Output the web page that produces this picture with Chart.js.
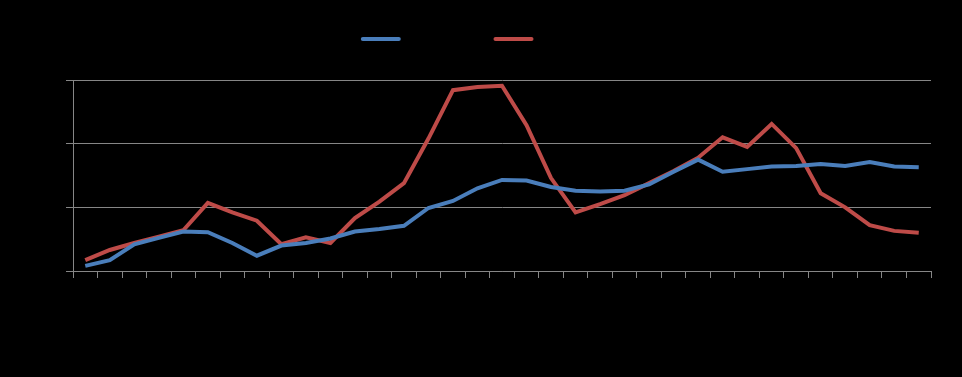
<!DOCTYPE html>
<html>
<head>
<meta charset="utf-8">
<script src="https://cdn.jsdelivr.net/npm/chart.js@4"></script>
<style>
  html, body { margin: 0; padding: 0; background: #000; }
  #wrap { width: 962px; height: 377px; }
</style>
</head>
<body>
<div id="wrap"><canvas id="chart" width="962" height="377"></canvas></div>
<script>
// categories (labels are drawn black on black in the original)
const categories = ["1", "2", "3", "4", "5", "6", "7", "8", "9", "10",
  "11", "12", "13", "14", "15", "16", "17", "18", "19", "20",
  "21", "22", "23", "24", "25", "26", "27", "28", "29", "30",
  "31", "32", "33", "34", "35"];

const seriesNames = ["Export volume", "Domestic demand"];

const blueValues = [0.8, 1.7, 4.2, 5.2, 6.2, 6.1, 4.4, 2.4, 4.0, 4.4,
  5.1, 6.2, 6.6, 7.1, 9.9, 11.0, 13.0, 14.3, 14.2, 13.2,
  12.6, 12.5, 12.6, 13.6, 15.6, 17.5, 15.6, 16.0, 16.4, 16.5,
  16.8, 16.5, 17.1, 16.4, 16.3];

const redValues = [1.7, 3.3, 4.4, 5.4, 6.4, 10.7, 9.2, 7.9, 4.2, 5.3,
  4.4, 8.3, 10.9, 13.8, 20.8, 28.4, 28.9, 29.1, 22.9, 14.6,
  9.2, 10.5, 11.9, 13.8, 15.7, 17.8, 21.0, 19.5, 23.1, 19.3,
  12.2, 10.0, 7.2, 6.3, 6.0];

const yTicks = [0, 10, 20, 30];

const axisGray = "#868686";

/* push the plot area down below the legend */
const legendGap = {
  id: "legendGap",
  beforeInit(chart) {
    const fit = chart.legend.fit;
    chart.legend.fit = function () {
      fit.bind(chart.legend)();
      this.height += 25;
    };
  },
};

let ctx = document.querySelector("#chart").getContext("2d");
new Chart(ctx, {
  type: "line",
  data: {
    labels: categories,
    datasets: [
      {
        label: seriesNames[0],
        data: blueValues,
        borderColor: "#4a7ebb",
        backgroundColor: "#4a7ebb",
        borderWidth: 4,
        pointRadius: 0,
        tension: 0,
      },
      {
        label: seriesNames[1],
        data: redValues,
        borderColor: "#be4b48",
        backgroundColor: "#be4b48",
        borderWidth: 4,
        pointRadius: 0,
        tension: 0,
      },
    ],
  },
  options: {
    responsive: false,
    animation: false,
    layout: { padding: { left: 66, right: 31, top: 23, bottom: 99 } },
    plugins: {
      legend: {
        display: true,
        position: "top",
        labels: {
          boxWidth: 40,
          boxHeight: 4,
          useBorderRadius: true,
          borderRadius: 2,
          color: "#000",
          font: { family: "Liberation Sans", size: 12 },
          padding: 10,
          generateLabels: (chart) =>
            Chart.defaults.plugins.legend.labels
              .generateLabels(chart)
              .map((item) => ({ ...item, lineWidth: 0 })),
        },
      },
      tooltip: { enabled: false },
    },
    scales: {
      x: {
        offset: true,
        ticks: { display: false },
        grid: {
          offset: true,
          drawOnChartArea: false,
          drawTicks: true,
          tickLength: 7,
          color: axisGray,
        },
        border: { display: true, color: axisGray, width: 1 },
      },
      y: {
        min: yTicks[0],
        max: yTicks[yTicks.length - 1],
        ticks: { display: false, stepSize: yTicks[1] - yTicks[0] },
        grid: { color: axisGray, tickLength: 7, drawTicks: true },
        border: { display: true, color: axisGray, width: 1 },
      },
    },
  },
  plugins: [legendGap],
});
</script>
</body>
</html>
